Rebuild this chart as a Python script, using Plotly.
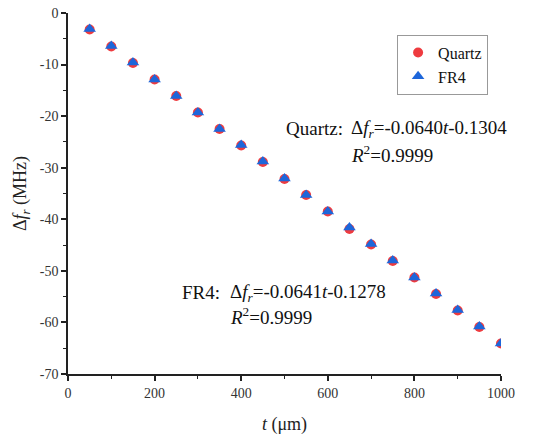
import plotly.graph_objects as go

# Thickness t (um) and resonance shift (MHz) for the two substrates
thickness = [50, 100, 150, 200, 250, 300, 350, 400, 450, 500,
             550, 600, 650, 700, 750, 800, 850, 900, 950, 1000]
quartz_shift = [-3.2, -6.5, -9.7, -12.9, -16.1, -19.3, -22.5, -25.7, -28.9, -32.2,
                -35.3, -38.5, -41.9, -44.9, -48.1, -51.3, -54.5, -57.7, -60.9, -64.1]
fr4_shift = [-3.1, -6.4, -9.6, -12.9, -16.1, -19.3, -22.5, -25.6, -28.8, -32.1,
             -35.3, -38.5, -41.6, -44.8, -48.0, -51.3, -54.4, -57.6, -60.8, -64.1]

x_ticks = [0, 200, 400, 600, 800, 1000]
x_tick_text = ["0", "200", "400", "600", "800", "1000"]
y_ticks = [0, -10, -20, -30, -40, -50, -60, -70]
y_tick_text = ["0", "-10", "-20", "-30", "-40", "-50", "-60", "-70"]

SERIF = "Liberation Serif"
RED = "#EE3B3F"
BLUE = "#1D66DA"

fig = go.Figure()
fig.add_trace(go.Scatter(
    x=thickness, y=quartz_shift, mode="markers", name="Quartz",
    marker=dict(symbol="circle", size=10, color=RED, line=dict(width=0)),
))
fig.add_trace(go.Scatter(
    x=thickness, y=fr4_shift, mode="markers", name="FR4",
    marker=dict(symbol="triangle-up", size=11, color=BLUE, line=dict(width=0)),
))

axis_common = dict(
    showline=True, linecolor="#222", linewidth=1.5, mirror=False,
    showgrid=False, zeroline=False, automargin=False,
    ticks="outside", ticklen=5, tickwidth=1.5, tickcolor="#222",
    tickfont=dict(family=SERIF, size=14, color="#333"),
)

fig.update_xaxes(
    range=[0, 1000], tickvals=x_ticks, ticktext=x_tick_text,
    minor=dict(ticks="outside", ticklen=3, tickwidth=1.2, tickcolor="#222", dtick=100, tick0=0),
    title=dict(text="<i>t</i> (μm)", font=dict(family=SERIF, size=18, color="#222"), standoff=18),
    **axis_common,
)
fig.update_yaxes(
    range=[-70, 0], tickvals=y_ticks, ticktext=y_tick_text,
    minor=dict(ticks="outside", ticklen=3, tickwidth=1.2, tickcolor="#222", dtick=5, tick0=0),
    title=dict(text="Δ<i>f</i><sub><i>r</i></sub> (MHz)", font=dict(family=SERIF, size=18, color="#222"), standoff=8),
    **axis_common,
)

ann_font = dict(family=SERIF, size=19, color="#111")
annotations = [
    dict(x=498, y=-22.4, text="Quartz:", xanchor="left", yanchor="middle"),
    dict(x=650, y=-22.4, text="Δ<i>f</i><sub><i>r</i></sub>=-0.0640<i>t</i>-0.1304",
         xanchor="left", yanchor="middle"),
    dict(x=650, y=-27.4, text="<i>R</i><sup>2</sup>=0.9999", xanchor="left", yanchor="middle"),
    dict(x=258, y=-54.2, text="FR4:", xanchor="left", yanchor="middle"),
    dict(x=370, y=-54.2, text="Δ<i>f</i><sub><i>r</i></sub>=-0.0641<i>t</i>-0.1278",
         xanchor="left", yanchor="middle"),
    dict(x=370, y=-58.7, text="<i>R</i><sup>2</sup>=0.9999", xanchor="left", yanchor="middle"),
]
for a in annotations:
    fig.add_annotation(xref="x", yref="y", showarrow=False, font=ann_font, **a)

fig.update_layout(
    width=541, height=439,
    margin=dict(l=68, r=40, t=13, b=65),
    paper_bgcolor="white", plot_bgcolor="white",
    font=dict(family=SERIF),
    showlegend=True,
    legend=dict(
        x=0.76, y=0.94, xanchor="left", yanchor="top",
        bordercolor="#999", borderwidth=1, bgcolor="white",
        font=dict(family=SERIF, size=16, color="#111"),
        tracegroupgap=0, itemwidth=30,
    ),
)

fig.write_html("out.html")
